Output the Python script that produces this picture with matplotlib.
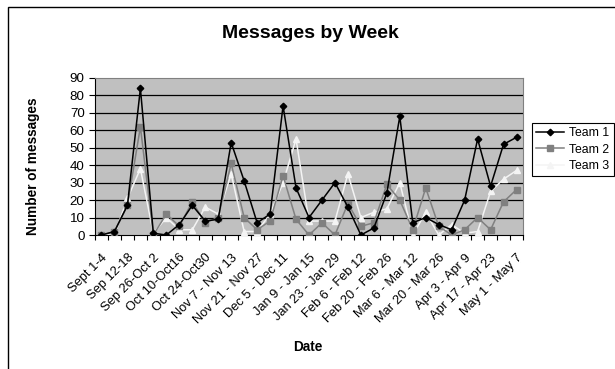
import matplotlib
matplotlib.use("Agg")
import matplotlib.pyplot as plt
import matplotlib.transforms as mtransforms
from matplotlib.patches import Rectangle

plt.rcParams["font.family"] = ["Liberation Sans", "DejaVu Sans"]

weeks = ["Sept 1-4", "Sep 5-11", "Sep 12-18", "Sep 19-25", "Sep 26-Oct 2",
         "Oct 3-Oct 9", "Oct 10-Oct16", "Oct 17-Oct23", "Oct 24-Oct30",
         "Oct 31 - Nov 6", "Nov 7 - Nov 13", "Nov 14 - Nov 20", "Nov 21 - Nov 27",
         "Nov 28 - Dec 4", "Dec 5 - Dec 11", "Dec 12 - Jan 8", "Jan 9 - Jan 15",
         "Jan 16 - Jan 22", "Jan 23 - Jan 29", "Jan 30 - Feb 5", "Feb 6 - Feb 12",
         "Feb 13 - Feb 19", "Feb 20 - Feb 26", "Feb 27 - Mar 5", "Mar 6 - Mar 12",
         "Mar 13 - Mar 19", "Mar 20 - Mar 26", "Mar 27 - Apr 2", "Apr 3 - Apr 9",
         "Apr 10 - Apr 16", "Apr 17 - Apr 23", "Apr 24 - Apr 30", "May 1 - May 7"]

team1 = [0, 2, 17, 84, 1, 0, 6, 17, 8, 9, 53, 31, 7, 12, 74, 27, 10,
         20, 30, 16, 0, 4, 24, 68, 7, 10, 6, 3, 20, 55, 28, 52, 56]
team2 = [0, 2, 17, 62, 0, 12, 5, 19, 7, 10, 41, 10, 3, 8, 34, 9, 0,
         7, 0, 18, 5, 7, 29, 20, 3, 27, 5, 0, 3, 10, 3, 19, 26]
team3 = [0, 0, 21, 38, 1, 10, 3, 3, 16, 12, 35, 2, 2, 12, 30, 55, 8,
         8, 8, 35, 10, 13, 15, 30, 0, 13, 0, 6, 1, 2, 25, 32, 37]

W, H = 615, 369
fig = plt.figure(figsize=(W / 100, H / 100), dpi=100)
fig.patch.set_facecolor("white")

# chart area border (cropped on right/bottom)
fig.add_artist(Rectangle((8 / W, -0.1), 1.2, (H - 7) / H + 0.1,
                         transform=fig.transFigure, fill=False,
                         edgecolor="black", linewidth=1.0))

ax = fig.add_axes([95 / W, (H - 235) / H, (523 - 95) / W, (235 - 78) / H])
ax.set_facecolor("#C0C0C0")

x = list(range(len(weeks)))
ax.plot(x, team1, color="black", lw=1.1, marker="D", ms=3.3, mfc="black",
        mec="black", label="Team 1", zorder=5)
ax.plot(x, team2, color="#808080", lw=1.1, marker="s", ms=3.8, mfc="#808080",
        mec="#808080", label="Team 2", zorder=4)
ax.plot(x, team3, color="#F4F4F4", lw=1.1, marker="^", ms=4.3, mfc="#F4F4F4",
        mec="#F4F4F4", label="Team 3", zorder=3)

ax.set_xlim(-0.5, len(weeks) - 0.5)
ax.set_ylim(0, 90)
ax.set_yticks(range(0, 100, 10))
for v in range(10, 90, 10):
    ax.axhline(v, color="black", lw=0.9, zorder=1)

ax.set_xticks(x[::2])
ax.set_xticklabels(weeks[::2], rotation=45, ha="right", rotation_mode="anchor",
                   fontsize=9.3)
shift = mtransforms.ScaledTranslation(-6 / 100, 0, fig.dpi_scale_trans)
for lbl in ax.get_xticklabels():
    lbl.set_transform(lbl.get_transform() + shift)
ax.set_xticks([i - 0.5 for i in range(len(weeks) + 1)], minor=True)
ax.tick_params(axis="x", which="major", length=0, pad=12)
ax.tick_params(axis="x", which="minor", length=3.5, width=0.8, direction="out")
ax.tick_params(axis="y", length=4.5, width=0.8, labelsize=9.6, pad=3)

ax.spines["left"].set_color("black")
ax.spines["bottom"].set_color("black")
ax.spines["top"].set_color("#808080")
ax.spines["right"].set_color("#808080")

fig.text(310 / W, 1 - 33 / H, "Messages by Week", ha="center", va="center",
         fontsize=14, fontweight="bold")
fig.text(33 / W, 1 - 166 / H, "Number of messages", ha="center", va="center",
         rotation=90, fontsize=9.8, fontweight="bold")
fig.text(308 / W, 1 - 347 / H, "Date", ha="center", va="center",
         fontsize=9.8, fontweight="bold")

leg = ax.legend(loc="upper left", bbox_to_anchor=(532 / W, 1 - 123 / H),
                bbox_transform=fig.transFigure, borderaxespad=0,
                fancybox=False, framealpha=1, edgecolor="black",
                fontsize=8.8, handlelength=2.3, handletextpad=0.4,
                labelspacing=0.35, borderpad=0.35)
leg.get_frame().set_linewidth(0.8)

fig.savefig("out.png", dpi=100)
